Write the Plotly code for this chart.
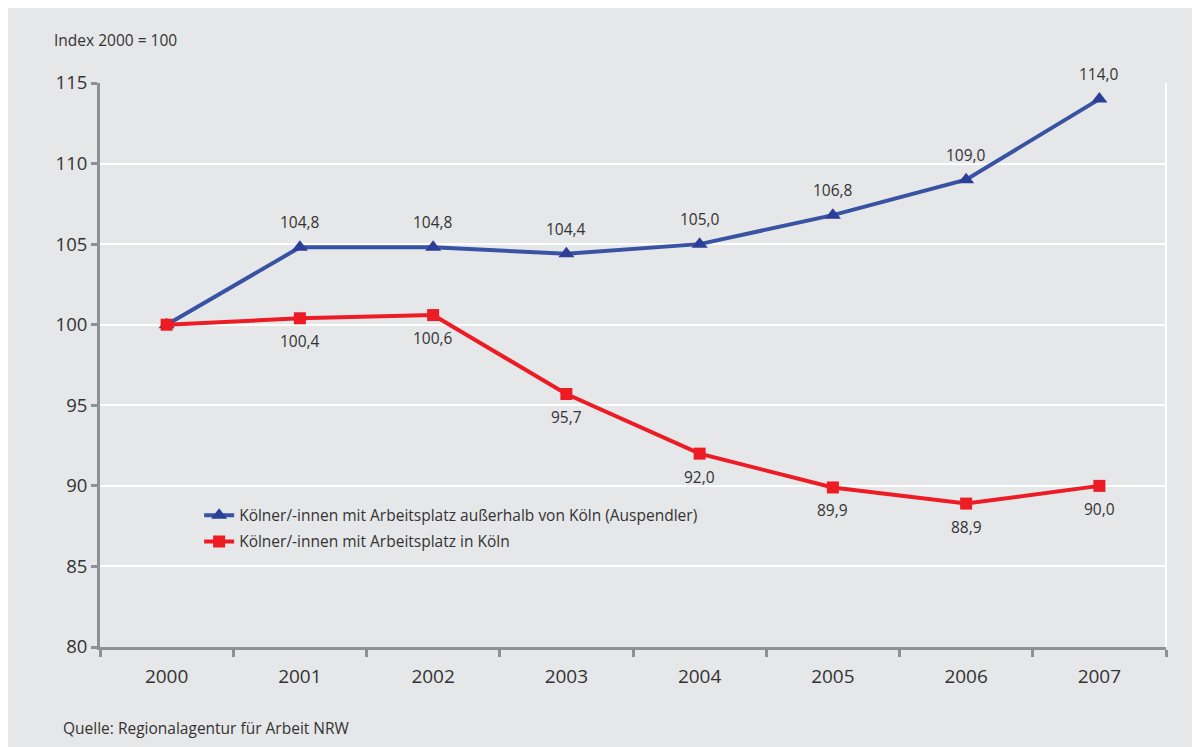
import plotly.graph_objects as go

years = ["2000", "2001", "2002", "2003", "2004", "2005", "2006", "2007"]
auspendler = [100.0, 104.8, 104.8, 104.4, 105.0, 106.8, 109.0, 114.0]
in_koeln = [100.0, 100.4, 100.6, 95.7, 92.0, 89.9, 88.9, 90.0]
name_aus = "Kölner/-innen mit Arbeitsplatz außerhalb von Köln (Auspendler)"
name_in = "Kölner/-innen mit Arbeitsplatz in Köln"

BG = "#e6e7e8"
BLUE = "#3953a4"
BLUE_M = "#2b3f98"
RED = "#ed1c24"
AXIS = "#8e9095"
TXT = "#333333"
FONT = "Open Sans, sans-serif"
SMALL = 15.5

xpos = list(range(len(years)))
bounds = [i - 0.5 for i in range(len(years) + 1)]

fig = go.Figure()
fig.add_trace(go.Scatter(
    x=xpos, y=auspendler, name=name_aus, mode="lines+markers", legendgroup="a",
    line=dict(color=BLUE, width=4),
    marker=dict(symbol="triangle-up", size=14, color=BLUE_M),
))
fig.add_trace(go.Scatter(
    x=xpos, y=in_koeln, name=name_in, mode="lines+markers", legendgroup="b",
    line=dict(color=RED, width=4),
    marker=dict(symbol="square", size=12, color=RED),
))

def fmt(v):
    return f"{v:.1f}".replace(".", ",")

annotations = []
for i, v in zip(xpos, auspendler):
    if i == 0:
        continue
    annotations.append(dict(x=i, y=v, text=fmt(v), showarrow=False, yshift=25,
                            font=dict(size=SMALL, color=TXT, family=FONT)))
for i, v in zip(xpos, in_koeln):
    if i == 0:
        continue
    annotations.append(dict(x=i, y=v, text=fmt(v), showarrow=False, yshift=-23,
                            font=dict(size=SMALL, color=TXT, family=FONT)))
annotations.append(dict(xref="paper", yref="paper", x=-0.045, y=1.076, xanchor="left",
                        yanchor="middle", text="Index 2000 = 100", showarrow=False,
                        font=dict(size=SMALL, color=TXT, family=FONT)))
annotations.append(dict(xref="paper", yref="paper", x=-0.037, y=-0.1436, xanchor="left",
                        yanchor="middle", text="Quelle: Regionalagentur für Arbeit NRW",
                        showarrow=False, font=dict(size=SMALL, color=TXT, family=FONT)))

fig.update_layout(
    width=1200, height=747,
    paper_bgcolor=BG, plot_bgcolor=BG,
    margin=dict(l=92, r=42, t=75, b=108),
    font=dict(family=FONT, color=TXT, size=16),
    showlegend=True,
    legend=dict(x=0.093, y=0.263, xanchor="left", yanchor="top",
                bgcolor="rgba(0,0,0,0)", font=dict(size=SMALL, color=TXT, family=FONT),
                traceorder="grouped", tracegroupgap=3),
    annotations=annotations,
    shapes=[
        dict(type="line", xref="paper", yref="paper", x0=1, x1=1, y0=0, y1=1,
             line=dict(color="white", width=2)),
    ],
)
fig.update_xaxes(
    range=[-0.5, len(years) - 0.5], tickmode="array", tickvals=xpos, ticktext=years,
    ticks="", showline=True, linecolor=AXIS, linewidth=3, ticklabelstandoff=10,
    showgrid=False, tickfont=dict(size=19, color=TXT), zeroline=False,
    minor=dict(tickmode="array", tickvals=bounds, ticks="outside", ticklen=7,
               tickwidth=3, tickcolor=AXIS, showgrid=False),
)
fig.update_yaxes(
    range=[80, 115], dtick=5, ticks="outside", ticklen=6, tickwidth=3,
    tickcolor=AXIS, showline=True, linecolor=AXIS, linewidth=3,
    showgrid=True, gridcolor="white", gridwidth=2, zeroline=False,
    tickfont=dict(size=18.5, color=TXT),
)

fig.write_html("out.html")
